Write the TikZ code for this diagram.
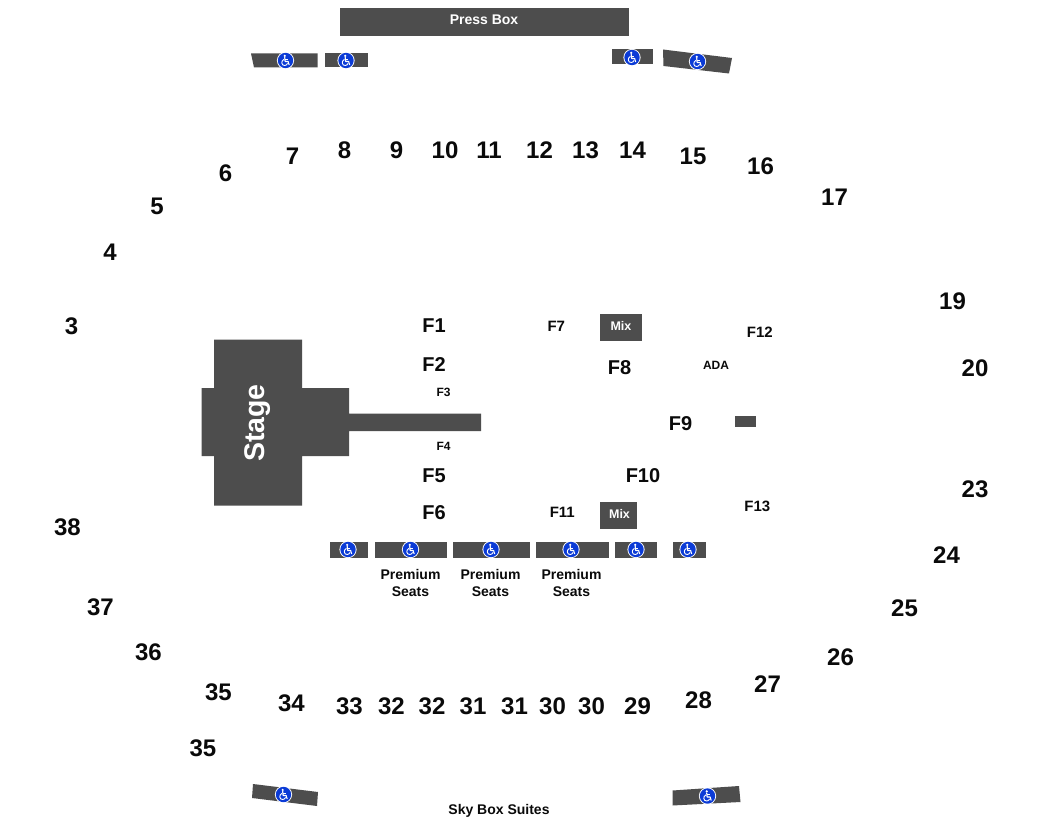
\documentclass[tikz,border=0pt]{standalone}
\usepackage{fontspec}
\setmainfont{Liberation Sans}
\definecolor{blockgray}{HTML}{4D4D4D}
\definecolor{adablue}{HTML}{0B3BD6}
\definecolor{txt}{HTML}{0A0A0A}
\tikzset{
  x=1pt,y=-1pt,
  block/.style={fill=blockgray},
  big/.style={text=txt,inner sep=0,xshift=0.5pt,font=\fontsize{24}{24}\selectfont\bfseries},
  fbig/.style={text=txt,inner sep=0,xshift=0.5pt,font=\fontsize{20}{20}\selectfont\bfseries},
  fmid/.style={text=txt,inner sep=0,xshift=0.3pt,font=\fontsize{15}{15}\selectfont\bfseries},
  fsmall/.style={text=txt,inner sep=0,font=\fontsize{12}{12}\selectfont\bfseries},
  lab/.style={text=txt,inner sep=0,align=center,font=\fontsize{14}{16.5}\selectfont\bfseries},
  wlab/.style={text=white,inner sep=0,font=\fontsize{12.5}{12.5}\selectfont\bfseries},
  presslab/.style={text=white,inner sep=0,font=\fontsize{14}{14}\selectfont\bfseries},
  ada/.pic={
    \fill[white] (0,0) circle (8.6);
    \fill[adablue] (0,0) circle (7.7);
    \fill[white] (-0.8,-4.6) circle (1.2);
    \draw[white,line width=1.1pt,line join=round,line cap=round] (-0.8,-3) -- (-0.4,1) -- (2.6,1) -- (3.6,4.2);
    \draw[white,line width=0.9pt] (-0.6,-1.2) -- (2,-1.2);
    \draw[white,line width=0.9pt] (-1.6,-1.2) .. controls (-5,0.5) and (-4,5.4) .. (-0.6,5) .. controls (0.9,4.9) and (1.7,3.8) .. (2,2.9);
  }
}
\begin{document}
\begin{tikzpicture}
\useasboundingbox (0,0) rectangle (1050,840);
\fill[white] (0,0) rectangle (1050,840);
% blocks
\path[block] (339.5,8.5) rectangle (628.5,36.5);
\node[presslab] (pressbox) at (484,19.5) {Press Box};
\path[block] (251,53.5) -- (317.5,53.5) -- (317.5,67.5) -- (254,67.5) -- cycle;
\path[block] (325,53.5) rectangle (367.5,67.5);
\path[block] (611.5,49.5) rectangle (653,64.5);
\path[block] (663,49.5) -- (732,58) -- (729,73.5) -- (663.5,66) -- cycle;
% stage
\path[block] (214,339.5) -- (302,339.5) -- (302,388) -- (349,388) -- (349,413.5) -- (481,413.5) -- (481,431) -- (349,431) -- (349,456) -- (302,456) -- (302,505.5) -- (214,505.5) -- (214,456) -- (201.5,456) -- (201.5,388) -- (214,388) -- cycle;
\node[text=white,inner sep=0,rotate=90,font=\fontsize{28.5}{28.5}\selectfont\bfseries] (stage) at (258,423) {Stage};
% mix
\path[block] (600,314) rectangle (641.5,340.5);
\node[wlab] (mixa) at (621,325.5) {Mix};
\path[block] (600,502) rectangle (636.5,528.5);
\node[wlab] (mixb) at (619.5,513.5) {Mix};
\path[block] (734.5,415.5) rectangle (756,427);
% front row
\path[block] (330,541.5) rectangle (368,557.5);
\path[block] (374.5,541.5) rectangle (447,557.5);
\path[block] (452.5,541.5) rectangle (529.5,557.5);
\path[block] (535.5,541.5) rectangle (609,557.5);
\path[block] (615,541.5) rectangle (657,557.5);
\path[block] (672.5,541.5) rectangle (705.5,557.5);
% bottom
\path[block] (253,784) -- (318,792) -- (317,806) -- (252,798) -- cycle;
\path[block] (672.5,790.5) -- (739,786) -- (740.5,802) -- (672.5,805.5) -- cycle;
% accessibility icons
\foreach \p in {(285.5,60.5),(346,60.5),(632,57.5),(697.5,61.5),(348,549.5),(410.5,549.5),(491,549.5),(571,549.5),(636,549.5),(688,549.5),(283.5,794.5),(707.5,796)}
  \pic at \p {ada};
% numbers
\node[big] (s3) at (71,326.5) {3};
\node[big] (s4) at (109.5,252) {4};
\node[big] (s5) at (156.5,206) {5};
\node[big] (s6) at (225,173) {6};
\node[big] (s7) at (292,156.5) {7};
\node[big] (s8) at (344,150.5) {8};
\node[big] (s9) at (396,150.5) {9};
\node[big] (s10) at (444.5,150.5) {10};
\node[big] (s11) at (488.5,150.5) {11};
\node[big] (s12) at (539,150.5) {12};
\node[big] (s13) at (585,150.5) {13};
\node[big] (s14) at (632,150.5) {14};
\node[big] (s15) at (692.5,156.5) {15};
\node[big] (s16) at (760,166.5) {16};
\node[big] (s17) at (834,197) {17};
\node[big] (s19) at (952,301.5) {19};
\node[big] (s20) at (974.5,368) {20};
\node[big] (s23) at (974.5,489.5) {23};
\node[big] (s24) at (946,555) {24};
\node[big] (s25) at (904,608.5) {25};
\node[big] (s26) at (840,657.5) {26};
\node[big] (s27) at (767,684.5) {27};
\node[big] (s28) at (698,700) {28};
\node[big] (s29) at (637,706.5) {29};
\node[big] (s30b) at (591,706.5) {30};
\node[big] (s30a) at (552,706.5) {30};
\node[big] (s31b) at (514,706.5) {31};
\node[big] (s31a) at (472.5,706.5) {31};
\node[big] (s32b) at (431.5,706.5) {32};
\node[big] (s32a) at (391,706.5) {32};
\node[big] (s33) at (349,706.5) {33};
\node[big] (s34) at (291,703.5) {34};
\node[big] (s35a) at (218,692.5) {35};
\node[big] (s35b) at (202.5,748) {35};
\node[big] (s36) at (148,652) {36};
\node[big] (s37) at (100,607) {37};
\node[big] (s38) at (67,527) {38};
% floor
\node[fbig] (f1) at (433.5,325.5) {F1};
\node[fbig] (f2) at (433.5,364.5) {F2};
\node[fsmall] (f3) at (443.5,392) {F3};
\node[fsmall] (f4) at (443.5,446) {F4};
\node[fbig] (f5) at (433.5,475.5) {F5};
\node[fbig] (f6) at (433.5,513) {F6};
\node[fmid] (f7) at (556,326.5) {F7};
\node[fbig] (f8) at (619,367.5) {F8};
\node[fbig] (f9) at (680,424) {F9};
\node[fbig] (f10) at (642.5,475.5) {F10};
\node[fmid] (f11) at (562,512.5) {F11};
\node[fmid] (f12) at (759.5,332) {F12};
\node[fmid] (f13) at (757,506) {F13};
\node[fsmall] (adal) at (716,365) {ADA};
\node[lab] (p1) at (410.5,583) {Premium\\Seats};
\node[lab] (p2) at (490.5,583) {Premium\\Seats};
\node[lab] (p3) at (571.5,583) {Premium\\Seats};
\node[lab] (sky) at (499,810.5) {Sky Box Suites};
\end{tikzpicture}
\end{document}
